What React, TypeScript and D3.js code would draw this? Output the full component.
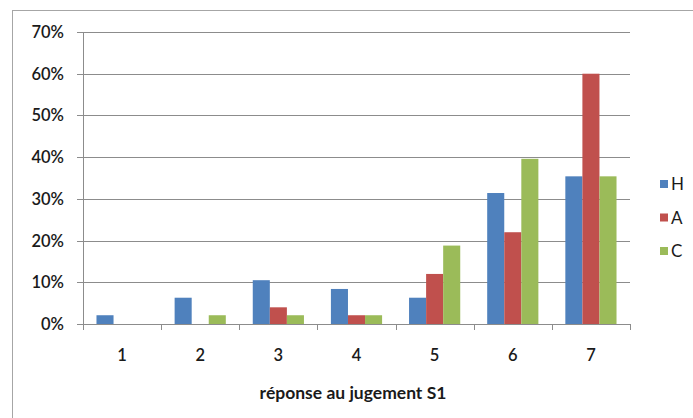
import React from "react";
import * as d3 from "d3";

const categories = ["1", "2", "3", "4", "5", "6", "7"];
const seriesNames = ["H", "A", "C"];
const valuesH = [0.021, 0.063, 0.105, 0.084, 0.063, 0.314, 0.354];
const valuesA = [0, 0, 0.04, 0.021, 0.12, 0.22, 0.6];
const valuesC = [0, 0.021, 0.021, 0.021, 0.188, 0.396, 0.354];
const yTicks = [0, 0.1, 0.2, 0.3, 0.4, 0.5, 0.6, 0.7];
const colors = ["#4F81BD", "#C0504D", "#9BBB59"];

export default function App() {
  const W = 693;
  const H = 418;
  const left = 83;
  const right = 630;
  const top = 32;
  const bottom = 324;
  const series = [valuesH, valuesA, valuesC];

  const x = d3.scaleBand<string>().domain(categories).range([left, right]).paddingInner(0.345).paddingOuter(0.1725);
  const xs = d3.scaleBand<string>().domain(seriesNames).range([0, x.bandwidth()]);
  const y = d3.scaleLinear().domain([0, 0.7]).range([bottom, top]);
  const step = (right - left) / categories.length;
  const font = "Lato, 'Open Sans', sans-serif";
  const legendY = [184, 217.5, 251];

  return (
    <svg width={W} height={H} style={{ position: "absolute", left: 0, top: 0, background: "#fff" }}>
      <rect x={12.5} y={10.5} width={690} height={430} fill="#fff" stroke="#a6a6a6" />
      {yTicks.map((t) => (
        <g key={t}>
          <line x1={77} x2={right} y1={Math.round(y(t)) + 0.5} y2={Math.round(y(t)) + 0.5} stroke="#8c8c8c" />
          <text x={64} y={y(t)} dy="0.36em" textAnchor="end" fontFamily={font} fontSize={16.5} fill="#1a1a1a" fontWeight={600}>
            {d3.format(".0%")(t)}
          </text>
        </g>
      ))}
      <line x1={left + 0.5} x2={left + 0.5} y1={top} y2={bottom} stroke="#8c8c8c" />
      {d3.range(categories.length + 1).map((i) => (
        <line key={i} x1={Math.round(left + i * step) + 0.5} x2={Math.round(left + i * step) + 0.5} y1={bottom} y2={bottom + 6} stroke="#8c8c8c" />
      ))}
      {categories.map((c, ci) => (
        <g key={c}>
          {series.map((vals, si) => (
            <rect
              key={si}
              x={(x(c) as number) + (xs(seriesNames[si]) as number)}
              y={y(vals[ci])}
              width={xs.bandwidth()}
              height={bottom - y(vals[ci])}
              fill={colors[si]}
            />
          ))}
          <text x={(x(c) as number) + x.bandwidth() / 2} y={361} textAnchor="middle" fontFamily={font} fontSize={16.5} fill="#1a1a1a" fontWeight={600}>
            {c}
          </text>
        </g>
      ))}
      <text x={353} y={399} textAnchor="middle" fontFamily={font} fontSize={17.5} fontWeight={700} fill="#1a1a1a">
        réponse au jugement S1
      </text>
      {seriesNames.map((s, i) => (
        <g key={s}>
          <rect x={660} y={legendY[i] - 4} width={8} height={8} fill={colors[i]} />
          <text x={671} y={legendY[i]} dy="0.36em" fontFamily={font} fontSize={17} fill="#1a1a1a">
            {s}
          </text>
        </g>
      ))}
    </svg>
  );
}
